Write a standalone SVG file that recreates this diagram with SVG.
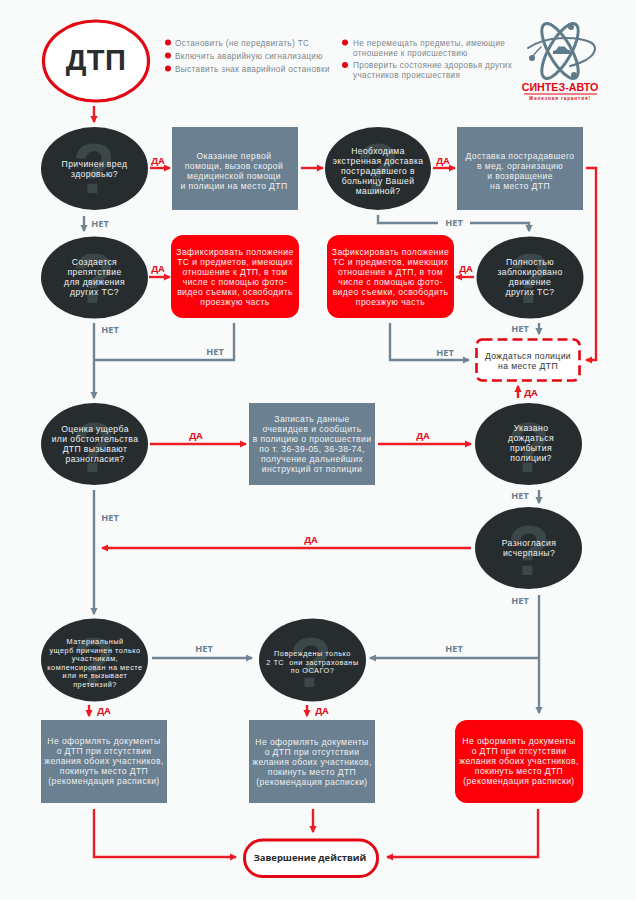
<svg xmlns="http://www.w3.org/2000/svg" width="636" height="900" viewBox="0 0 636 900">
<style>
text{font-family:"Open Sans","Noto Sans","Liberation Sans",sans-serif}
.q{fill:#272d2f}
.qm{fill:#3c4749;font-family:"Liberation Sans",sans-serif;font-weight:700;font-size:70px;text-anchor:middle}
.t{fill:#eef1f2;font-family:"Liberation Sans",Arial,sans-serif;font-size:8.600px;letter-spacing:.4px;text-anchor:middle}
.s{font-size:7.300px;letter-spacing:.5px}
.bul{fill:#7d8588;font-family:"Liberation Sans",Arial,sans-serif;font-size:8.200px;letter-spacing:.35px}
.dot{fill:#e30613}
.g{fill:#6b8090}
.r{fill:#fb0008}
.gl{fill:none;stroke:#6f8595;stroke-width:2.4}
.rl{fill:none;stroke:#ed1c24;stroke-width:2.4}
.ln{font-size:9.2px;font-weight:700;text-anchor:middle}
.ln.n{fill:#6b8090}
.ln.d{fill:#e2101b}
</style>
<defs>
<marker id="ag" viewBox="0 0 6 6" refX="5" refY="3" markerWidth="3" markerHeight="3" orient="auto"><path d="M0 0L6 3L0 6z" fill="#6f8595"/></marker>
<marker id="ar" viewBox="0 0 6 6" refX="5" refY="3" markerWidth="3" markerHeight="3" orient="auto"><path d="M0 0L6 3L0 6z" fill="#ed1c24"/></marker>
</defs>
<rect width="636" height="900" fill="#f9fbfb"/>

<g id="connectors">
<g class="rl">
<path marker-end="url(#ar)" d="M94 106V122"/>
<path marker-end="url(#ar)" d="M150 168H170"/>
<path marker-end="url(#ar)" d="M301 168H323"/>
<path marker-end="url(#ar)" d="M433 168H455"/>
<path marker-end="url(#ar)" d="M586 168H596V360H586"/>
<path marker-end="url(#ar)" d="M149 277H170"/>
<path marker-end="url(#ar)" d="M474 277H456"/>
<path marker-end="url(#ar)" d="M518 398V386"/>
<path marker-end="url(#ar)" d="M150 444H246"/>
<path marker-end="url(#ar)" d="M378 444H471"/>
<path marker-end="url(#ar)" d="M471 548H102"/>
<path marker-end="url(#ar)" d="M89 705V716"/>
<path marker-end="url(#ar)" d="M307 705V716"/>
<path marker-end="url(#ar)" d="M94 809V857H236"/>
<path marker-end="url(#ar)" d="M313 809V832"/>
<path marker-end="url(#ar)" d="M538 809V857H387"/>
</g>
<g class="gl">
<path marker-end="url(#ag)" d="M84 216V231"/>
<path d="M378 215V223H438"/>
<path marker-end="url(#ag)" d="M470 223H529V231"/>
<path marker-end="url(#ag)" d="M94 323V398"/>
<path d="M94 360H234V323"/>
<path marker-end="url(#ag)" d="M390 323V360H469"/>
<path marker-end="url(#ag)" d="M539 323V334"/>
<path marker-end="url(#ag)" d="M539 490V503"/>
<path marker-end="url(#ag)" d="M94 490V614"/>
<path marker-end="url(#ag)" d="M539 595V713"/>
<path marker-end="url(#ag)" d="M539 658H370"/>
<path marker-end="url(#ag)" d="M152 658H252"/>
</g>
<g>
<text class="ln d" x="158" y="164">ДА</text>
<text class="ln d" x="443" y="164">ДА</text>
<text class="ln d" x="158" y="272">ДА</text>
<text class="ln d" x="466" y="272">ДА</text>
<text class="ln d" x="531" y="396">ДА</text>
<text class="ln d" x="196" y="439">ДА</text>
<text class="ln d" x="423" y="439">ДА</text>
<text class="ln d" x="311" y="543">ДА</text>
<text class="ln d" x="104" y="714">ДА</text>
<text class="ln d" x="322" y="714">ДА</text>
<text class="ln n" x="100" y="227">НЕТ</text>
<text class="ln n" x="454" y="226">НЕТ</text>
<text class="ln n" x="110" y="333">НЕТ</text>
<text class="ln n" x="215" y="355">НЕТ</text>
<text class="ln n" x="445" y="356">НЕТ</text>
<text class="ln n" x="520" y="332">НЕТ</text>
<text class="ln n" x="520" y="499">НЕТ</text>
<text class="ln n" x="110" y="521">НЕТ</text>
<text class="ln n" x="520" y="604">НЕТ</text>
<text class="ln n" x="204" y="652">НЕТ</text>
<text class="ln n" x="454" y="652">НЕТ</text>
</g>
</g>

<g id="start"><ellipse cx="96" cy="61" rx="52.500" ry="40" fill="#fff" stroke="#e30613" stroke-width="3.200"/><text x="96" y="70" text-anchor="middle" style="font-family:'Liberation Sans',sans-serif;font-weight:700;font-size:29px;letter-spacing:.5px" fill="#2a2d2f">ДТП</text></g>

<g id="notes">
<circle class="dot" cx="168" cy="42.500" r="3"/><text class="bul" x="175" y="46">Остановить (не передвигать) ТС</text>
<circle class="dot" cx="168" cy="55.500" r="3"/><text class="bul" x="175" y="59">Включить аварийную сигнализацию</text>
<circle class="dot" cx="168" cy="68.500" r="3"/><text class="bul" x="175" y="72">Выставить знак аварийной остановки</text>
<circle class="dot" cx="345" cy="42.500" r="3"/><text class="bul" x="353" y="46">Не перемещать предметы, имеющие<tspan x="353" dy="9.500">отношение к происшествию</tspan></text>
<circle class="dot" cx="345" cy="65" r="3"/><text class="bul" x="353" y="68">Проверить состояние здоровья других<tspan x="353" dy="10">участников происшествия</tspan></text>
</g>

<g id="logo">
<g fill="none" stroke="#5f7a88" stroke-linecap="round">
<path d="M528 48C545 36 575 36 590 42C598 46 596 54 586 60C580 63 575 65 570 66" stroke-width="2"/>
<path d="M541 47C536 52 532 56 531 60" stroke-width="1.500"/>
<ellipse cx="560" cy="51" rx="31" ry="11" stroke-width="3" transform="rotate(60 560 51)"/>
<ellipse cx="560" cy="51" rx="31" ry="11" stroke-width="3" transform="rotate(-60 560 51)"/>
</g>
<g fill="#5f7a88"><circle cx="571" cy="27" r="3"/><circle cx="574" cy="75" r="3"/><circle cx="532" cy="58" r="3"/></g>
<path d="M553 54v-3l3-1 2.500-3.500h6l3 3 3 1v3.500z" fill="#5f7a88"/>
<text x="560" y="91" text-anchor="middle" style="font-family:'Liberation Sans',sans-serif;font-weight:700;font-size:10.700px" fill="#e30613">СИНТЕЗ-АВТО</text>
<rect x="524" y="93.500" width="73" height="1" fill="#e30613"/>
<text x="560" y="99.500" text-anchor="middle" style="font-family:'Liberation Sans',sans-serif;font-weight:700;font-size:4.600px;letter-spacing:.9px" fill="#e30613">Железная гарантия!</text>
</g>

<g id="q1"><ellipse class="q" cx="94.500" cy="168.500" rx="53.500" ry="41.500"/><text class="qm" x="94" y="193">?</text><text class="t" x="94.500" y="167">Причинен вред<tspan x="94.500" dy="10">здоровью?</tspan></text></g>
<g id="b1"><rect class="g" x="172" y="127" width="126" height="83"/><text class="t" x="234" y="159">Оказание первой<tspan x="234" dy="10">помощи, вызов скорой</tspan><tspan x="234" dy="10">медицинской помощи</tspan><tspan x="234" dy="10">и полиции на место ДТП</tspan></text></g>
<g id="q2"><ellipse class="q" cx="378" cy="168.500" rx="53" ry="41.500"/><text class="qm" x="378" y="193">?</text><text class="t" x="378" y="154">Необходима<tspan x="378" dy="10">экстренная доставка</tspan><tspan x="378" dy="10">пострадавшего в</tspan><tspan x="378" dy="10">больницу Вашей</tspan><tspan x="378" dy="10">машиной?</tspan></text></g>
<g id="b2"><rect class="g" x="457" y="127" width="126" height="83"/><text class="t" x="520" y="159">Доставка пострадавшего<tspan x="520" dy="10">в мед. организацию</tspan><tspan x="520" dy="10">и возвращение</tspan><tspan x="520" dy="10">на место ДТП</tspan></text></g>

<g id="q3"><ellipse class="q" cx="94.500" cy="277.500" rx="53.500" ry="41"/><text class="qm" x="94" y="303">?</text><text class="t" x="94.500" y="265">Создается<tspan x="94.500" dy="10">препятствие</tspan><tspan x="94.500" dy="10">для движения</tspan><tspan x="94.500" dy="10">других ТС?</tspan></text></g>
<g id="r1"><rect class="r" x="171" y="235" width="128" height="83" rx="12"/><text class="t" x="235" y="255">Зафиксировать положение<tspan x="235" dy="10">ТС и предметов, имеющих</tspan><tspan x="235" dy="10">отношение к ДТП, в том</tspan><tspan x="235" dy="10">числе с помощью фото-</tspan><tspan x="235" dy="10">видео съемки, освободить</tspan><tspan x="235" dy="10">проезжую часть</tspan></text></g>
<g id="r2"><rect class="r" x="327" y="235" width="127" height="83" rx="12"/><text class="t" x="390.500" y="255">Зафиксировать положение<tspan x="390.500" dy="10">ТС и предметов, имеющих</tspan><tspan x="390.500" dy="10">отношение к ДТП, в том</tspan><tspan x="390.500" dy="10">числе с помощью фото-</tspan><tspan x="390.500" dy="10">видео съемки, освободить</tspan><tspan x="390.500" dy="10">проезжую часть</tspan></text></g>
<g id="q4"><ellipse class="q" cx="530" cy="277.500" rx="53.500" ry="41"/><text class="qm" x="530" y="303">?</text><text class="t" x="530" y="265">Полностью<tspan x="530" dy="10">заблокировано</tspan><tspan x="530" dy="10">движение</tspan><tspan x="530" dy="10">других ТС?</tspan></text></g>
<g id="wait"><rect x="476.500" y="339.500" width="103" height="41" rx="6" fill="#fff" stroke="#e30613" stroke-width="2.600" stroke-dasharray="10 5"/><text class="t" x="528" y="359" style="fill:#2e3335">Дождаться полиции<tspan x="528" dy="10">на месте ДТП</tspan></text></g>

<g id="q5"><ellipse class="q" cx="94.500" cy="444" rx="53.500" ry="41"/><text class="qm" x="94" y="472">?</text><text class="t" x="95" y="432">Оценка ущерба<tspan x="95" dy="10">или обстоятельства</tspan><tspan x="95" dy="10">ДТП вызывают</tspan><tspan x="95" dy="10">разногласия?</tspan></text></g>
<g id="b3"><rect class="g" x="249" y="403" width="126" height="82"/><text class="t" x="312" y="422">Записать данные<tspan x="312" dy="10">очевидцев и сообщить</tspan><tspan x="312" dy="10">в полицию о происшествии</tspan><tspan x="312" dy="10">по т. 36-39-05, 36-38-74,</tspan><tspan x="312" dy="10">получение дальнейших</tspan><tspan x="312" dy="10">инструкций от полиции</tspan></text></g>
<g id="q6"><ellipse class="q" cx="528.500" cy="444" rx="53.500" ry="41"/><text class="qm" x="529" y="472">?</text><text class="t" x="531" y="431">Указано<tspan x="531" dy="10">дождаться</tspan><tspan x="531" dy="10">прибытия</tspan><tspan x="531" dy="10">полиции?</tspan></text></g>
<g id="q7"><ellipse class="q" cx="528.500" cy="548" rx="53.500" ry="41"/><text class="qm" x="529" y="575">?</text><text class="t" x="529" y="546">Разногласия<tspan x="529" dy="10">исчерпаны?</tspan></text></g>

<g id="q8"><ellipse class="q" cx="94.500" cy="660" rx="53.500" ry="41.500"/><text class="qm" x="94" y="687">?</text><text class="t s" x="95" y="644">Материальный<tspan x="95" dy="8.500">ущерб причинен только</tspan><tspan x="95" dy="8.500">участникам,</tspan><tspan x="95" dy="8.500">компенсирован на месте</tspan><tspan x="95" dy="8.500">или не вызывает</tspan><tspan x="95" dy="8.500">претензий?</tspan></text></g>
<g id="q9"><ellipse class="q" cx="312.500" cy="660" rx="53.500" ry="41.500"/><text class="qm" x="311" y="687">?</text><text class="t s" x="312.500" y="656">Повреждены только<tspan x="312.500" dy="8.500">2 ТС&#160; они застрахованы</tspan><tspan x="312.500" dy="8.500">по ОСАГО?</tspan></text></g>
<g id="b4"><rect class="g" x="41" y="720" width="126" height="83"/><text class="t" x="104" y="744">Не оформлять документы<tspan x="104" dy="10">о ДТП при отсутствии</tspan><tspan x="104" dy="10">желания обоих участников,</tspan><tspan x="104" dy="10">покинуть место ДТП</tspan><tspan x="104" dy="10">(рекомендация расписки)</tspan></text></g>
<g id="b5"><rect class="g" x="249" y="720" width="126" height="83"/><text class="t" x="312" y="745">Не оформлять документы<tspan x="312" dy="10">о ДТП при отсутствии</tspan><tspan x="312" dy="10">желания обоих участников,</tspan><tspan x="312" dy="10">покинуть место ДТП</tspan><tspan x="312" dy="10">(рекомендация расписки)</tspan></text></g>
<g id="r3"><rect class="r" x="455" y="720" width="128" height="83" rx="12"/><text class="t" x="519" y="744">Не оформлять документы<tspan x="519" dy="10">о ДТП при отсутствии</tspan><tspan x="519" dy="10">желания обоих участников,</tspan><tspan x="519" dy="10">покинуть место ДТП</tspan><tspan x="519" dy="10">(рекомендация расписки)</tspan></text></g>
<g id="end"><rect x="244.500" y="840" width="133" height="36.500" rx="18" fill="#fff" stroke="#e30613" stroke-width="3"/><text x="310" y="861" text-anchor="middle" style="font-weight:700;font-size:9.400px" fill="#26292b">Завершение действий</text></g>
</svg>
